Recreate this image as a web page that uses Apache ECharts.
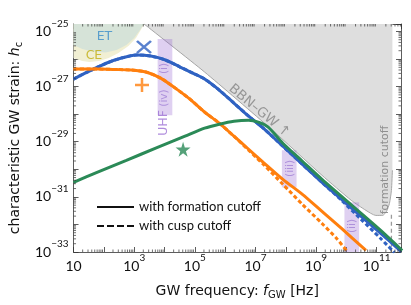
<!DOCTYPE html>
<html><head><meta charset="utf-8">
<script src="https://cdn.jsdelivr.net/npm/echarts@6/dist/echarts.min.js"></script>
<style>html,body{margin:0;padding:0;background:#fff}#c{width:411px;height:305px}</style>
</head><body><div id="c"></div>
<script>
// all values are [log10(f_GW / Hz), log10(h_c)]
const blueSolid = [[1.0,-26.727],[1.452,-26.473],[2.097,-26.145],[2.581,-25.964],[3.065,-25.855],[3.548,-25.891],[4.032,-26.036],[4.516,-26.291],[5.0,-26.545],[5.323,-26.727],[5.806,-27.127],[6.29,-27.6],[6.774,-28.073],[7.258,-28.509],[7.903,-29.164],[8.548,-29.818],[9.194,-30.473],[9.839,-31.091],[10.484,-31.709],[11.129,-32.327],[11.806,-32.982]];
const blueDashed = [[1.0,-26.727],[1.452,-26.473],[2.097,-26.145],[2.581,-25.964],[3.065,-25.855],[3.548,-25.891],[4.032,-26.036],[4.516,-26.291],[5.0,-26.545],[5.323,-26.727],[5.806,-27.127],[6.29,-27.6],[6.774,-28.073],[7.258,-28.509],[7.903,-29.164],[8.548,-29.818],[9.194,-30.473],[9.839,-31.127],[10.484,-31.818],[11.129,-32.509],[11.581,-33.018]];
const orangeSolid = [[1.0,-26.364],[1.774,-26.364],[2.419,-26.382],[2.903,-26.4],[3.387,-26.473],[3.871,-26.691],[4.355,-27.055],[4.839,-27.455],[5.323,-27.927],[5.806,-28.327],[6.29,-28.8],[6.774,-29.273],[7.258,-29.745],[7.903,-30.364],[8.548,-30.909],[9.194,-31.527],[9.839,-32.145],[10.645,-32.945]];
const orangeDashed = [[1.0,-26.364],[1.774,-26.364],[2.419,-26.382],[2.903,-26.4],[3.387,-26.473],[3.871,-26.691],[4.355,-27.055],[4.839,-27.455],[5.323,-27.927],[5.806,-28.327],[6.29,-28.8],[6.774,-29.309],[7.258,-29.818],[7.903,-30.545],[8.548,-31.273],[9.194,-31.964],[9.677,-32.509],[10.0,-32.945]];
const greenSolid = [[1.0,-30.473],[1.774,-30.109],[2.742,-29.673],[3.71,-29.236],[4.677,-28.8],[5.323,-28.509],[5.806,-28.364],[6.29,-28.255],[6.774,-28.218],[7.097,-28.291],[7.419,-28.473],[7.903,-29.055],[8.548,-29.709],[9.194,-30.364],[9.839,-30.982],[10.484,-31.6],[11.129,-32.218],[11.839,-32.945]];

const bbnRegion = [[3.323,-24.727],[5.323,-26.473],[7.484,-28.509],[9.194,-30.218],[10.161,-31.127],[10.645,-31.491],[10.968,-31.673],[11.194,-31.673],[11.323,-31.527],[11.419,-31.236],[11.484,-30.764],[11.516,-30.036],[11.516,-24.727]];
const etCurve = [[1.0,-25.49],[1.29,-25.64],[1.61,-25.73],[2.06,-25.76],[2.42,-25.67],[2.74,-25.49],[3.0,-25.24],[3.19,-24.95],[3.32,-24.73]];
const ceCurve = [[1.0,-25.96],[1.29,-26.07],[1.52,-26.11],[1.84,-26.07],[2.16,-25.96],[2.48,-25.78],[2.81,-25.53],[3.06,-25.24],[3.26,-24.87],[3.35,-24.73]];
const formationCut = [[11.484,-31.65],[11.484,-33]];

// UHF bands: [fmin, fmax, hmin, hmax]
const uhfBands = [[3.774,4.258,-28.04,-25.27],[7.871,8.355,-30.655,-29.309],[9.935,10.419,-33,-31.2]];
const bandLabels = [['(i)',3.982,-26.344],['(iv)',3.982,-27.414],['(iii)',8.14,-29.971],['(ii)',10.188,-32.057]];

const markBlue = [[3.323,-25.564]];
const markOrange = [[3.258,-26.945]];
const markGreen = [[4.613,-29.273]];

const xMin = 1, xMax = 11.8, yMin = -33, yMax = -24.73;
const xLabelTicks = [1,3,5,7,9,11];
const yLabelTicks = [-33,-31,-29,-27,-25];
const legendNames = ['with formation cutoff','with cusp cutoff'];

const FONT = 'Lato';
const WFONT = 'DejaVu Sans';
const BLUE = '#2f62c2', ORANGE = '#ff7f0e', GREEN = '#2b8a57';

function isIn(v, arr){ return arr.some(t => Math.abs(t - v) < 1e-6); }

// minor tick positions (log axis style)
const xMinor = [], yMinor = [];
for (let n = 1; n <= 11; n++) for (let k = 2; k <= 9; k++) { const v = n + Math.log10(k); if (v < xMax) xMinor.push([v, yMin]); }
for (let n = -33; n <= -25; n++) for (let k = 2; k <= 9; k++) { const v = n + Math.log10(k); if (v < yMax) yMinor.push([xMin, v]); }

const chart = echarts.init(document.getElementById('c'), null, {renderer:'canvas'});

function polygon(name, pts, fill, z) {
  return {type:'custom', name, z, silent:true, clip:true, data:[pts[0]],
    renderItem:(params, api) => ({type:'polygon', shape:{points: pts.map(p => api.coord(p))}, style:{fill}})};
}
function areaAbove(curve) { return curve.concat([[curve[curve.length-1][0], yMax],[xMin, yMax]]); }

const bandSeries = {type:'custom', name:'uhf', z:3, silent:true, clip:true, data: uhfBands,
  renderItem:(params, api) => {
    const a = api.coord([api.value(0), api.value(3)]);
    const b = api.coord([api.value(1), api.value(2)]);
    return {type:'rect', shape:{x:a[0], y:a[1], width:b[0]-a[0], height:b[1]-a[1]}, style:{fill:'rgba(150,100,210,0.30)'}};
  }};

const tickStyle = {stroke:'#333', lineWidth:0.7};
const xMinorSeries = {type:'custom', z:20, silent:true, clip:false, data:xMinor,
  renderItem:(params, api) => {
    const cs = params.coordSys; const p = api.coord([api.value(0), yMin]);
    return {type:'group', children:[
      {type:'line', shape:{x1:p[0], y1:cs.y+cs.height, x2:p[0], y2:cs.y+cs.height-2.5}, style:tickStyle},
      {type:'line', shape:{x1:p[0], y1:cs.y, x2:p[0], y2:cs.y+2.5}, style:tickStyle}]};
  }};
const yMinorSeries = {type:'custom', z:20, silent:true, clip:false, data:yMinor,
  renderItem:(params, api) => {
    const cs = params.coordSys; const p = api.coord([xMin, api.value(1)]);
    return {type:'group', children:[
      {type:'line', shape:{x1:cs.x, y1:p[1], x2:cs.x+2.5, y2:p[1]}, style:tickStyle},
      {type:'line', shape:{x1:cs.x+cs.width, y1:p[1], x2:cs.x+cs.width-2.5, y2:p[1]}, style:tickStyle}]};
  }};

function line(name, data, color, dashed, z) {
  return {type:'line', name, data, z, showSymbol:false, symbol:'none', smooth:0.25, silent:true,
    lineStyle:{color, width:3, type: dashed ? [4,2.5] : 'solid', cap:'butt'}, itemStyle:{color}};
}

const textItems = [
  {value:[2.019,-25.206], text:'ET', color:'#3a8cc9', size:12.5, rot:0},
  {value:[1.673,-25.887], text:'CE', color:'#c2ae12', size:12.5, rot:0},
  {value:[7.125,-27.886], text:'BBN–GW ↑', color:'#858585', size:13.5, rot:-39.6},
  {value:[11.286,-30.026], text:'formation cutoff', color:'#7a7a7a', size:11, rot:90},
  {value:[3.966,-28.321], text:'UHF', color:'#9b6fd3', size:12.5, rot:90}
].concat(bandLabels.map(b => ({value:[b[1], b[2]], text:b[0], color:'#a181d6', size:10.5, rot:90})));

const textSeries = {type:'scatter', z:30, silent:true, symbolSize:0,
  data: textItems.map(t => ({value:t.value, label:{show:true, position:'inside', formatter:t.text, color:t.color,
    fontSize:t.size, fontFamily:WFONT, rotate:t.rot}}))};

const richX = {b:{fontSize:14, fontFamily:FONT, color:'#111', lineHeight:26}, s:{fontSize:10, fontFamily:FONT, color:'#111', lineHeight:10, verticalAlign:'top'}};
const richName = {n:{fontSize:14, fontFamily:WFONT, color:'#111', lineHeight:18}, i:{fontSize:14, fontFamily:WFONT, fontStyle:'italic', color:'#111', lineHeight:18}, sub:{fontSize:10, fontFamily:WFONT, color:'#111', lineHeight:10, verticalAlign:'bottom'}};

const crossPath = 'path://M0,0L10,10M10,0L0,10';
const plusPath = 'path://M5,0L5,10M0,5L10,5';
const starPath = 'path://M50,0L61,35L98,35L68,57L79,91L50,70L21,91L32,57L2,35L39,35Z';
const solidIcon = 'path://M0,0h37v2h-37z';
const dashIcon = 'path://M0,0h7v2h-7zM10,0h7v2h-7zM20,0h7v2h-7zM30,0h7v2h-7z';

const axisCommon = {axisLine:{onZero:false, lineStyle:{color:'#333', width:0.8}},
  axisTick:{inside:true, length:5, lineStyle:{color:'#333', width:0.8}}, splitLine:{show:false}};

const option = {
  animation:false,
  backgroundColor:'#fff',
  grid:{left:66, right:10, top:24, bottom:53},
  legend:{left:92, top:195, orient:'vertical', itemWidth:37, itemHeight:2, itemGap:5,
    textStyle:{fontFamily:FONT, fontSize:13, color:'#111', lineHeight:14},
    data:[{name:legendNames[0], icon:solidIcon}, {name:legendNames[1], icon:dashIcon}]},
  xAxis:[
    Object.assign({type:'value', min:xMin, max:xMax, interval:1, position:'bottom', showMaxLabel:false,
     axisLabel:{margin:1, rich:richX, formatter:v => isIn(v, xLabelTicks) ? (Math.round(v) === 1 ? '{b|10}' : '{b|10}{s|' + Math.round(v) + '}') : ''},
     name:'{n|GW frequency: }{i|f}{sub|GW}{n| [Hz]}', nameLocation:'middle', nameGap:30,
     nameTextStyle:{rich:richName}}, axisCommon),
    Object.assign({type:'value', min:xMin, max:xMax, interval:1, position:'top', axisLabel:{show:false}}, axisCommon)
  ],
  yAxis:[
    Object.assign({type:'value', min:yMin, max:yMax, interval:1, position:'left', showMaxLabel:false,
     axisLabel:{margin:5, rich:richX, formatter:v => isIn(v, yLabelTicks) ? '{b|10}{s|−' + Math.abs(Math.round(v)) + '}' : ''},
     name:'{n|characteristic GW strain: }{i|h}{sub|c}', nameLocation:'middle', nameGap:46,
     nameTextStyle:{rich:richName}}, axisCommon),
    Object.assign({type:'value', min:yMin, max:yMax, interval:1, position:'right', axisLabel:{show:false}}, axisCommon)
  ],
  series:[
    polygon('ce', areaAbove(ceCurve), '#f1efd3', 1),
    polygon('et', areaAbove(etCurve), '#d6e3d8', 2),
    polygon('bbn', bbnRegion, '#dedede', 2),
    {type:'line', data:bbnRegion.slice(0, bbnRegion.length-1), z:2, symbol:'none', silent:true, smooth:0.2, lineStyle:{color:'#a6a6a6', width:1}},
    {type:'line', data:formationCut, z:2, symbol:'none', silent:true, lineStyle:{color:'#9a9a9a', width:1.3, type:[4,3]}},
    bandSeries,
    line('blue', blueSolid, BLUE, false, 5),
    line('blueCusp', blueDashed, BLUE, true, 5),
    line('orange', orangeSolid, ORANGE, false, 6),
    line('orangeCusp', orangeDashed, ORANGE, true, 6),
    line('green', greenSolid, GREEN, false, 7),
    {type:'scatter', data:markBlue, z:8, symbol:crossPath, symbolSize:[14,12], silent:true, itemStyle:{color:'transparent', borderColor:BLUE, borderWidth:2.5}},
    {type:'scatter', data:markOrange, z:8, symbol:plusPath, symbolSize:[14,14], silent:true, itemStyle:{color:'transparent', borderColor:ORANGE, borderWidth:2.5}},
    {type:'scatter', data:markGreen, z:8, symbol:starPath, symbolSize:[15,15], silent:true, itemStyle:{color:GREEN}},
    {type:'line', name:legendNames[0], data:[], symbol:'none', color:'#111', itemStyle:{color:'#111'}, lineStyle:{color:'#111', width:2}},
    {type:'line', name:legendNames[1], data:[], symbol:'none', color:'#111', itemStyle:{color:'#111'}, lineStyle:{color:'#111', width:2, type:[4,3]}},
    xMinorSeries, yMinorSeries, textSeries
  ]
};
chart.setOption(option);
</script></body></html>
